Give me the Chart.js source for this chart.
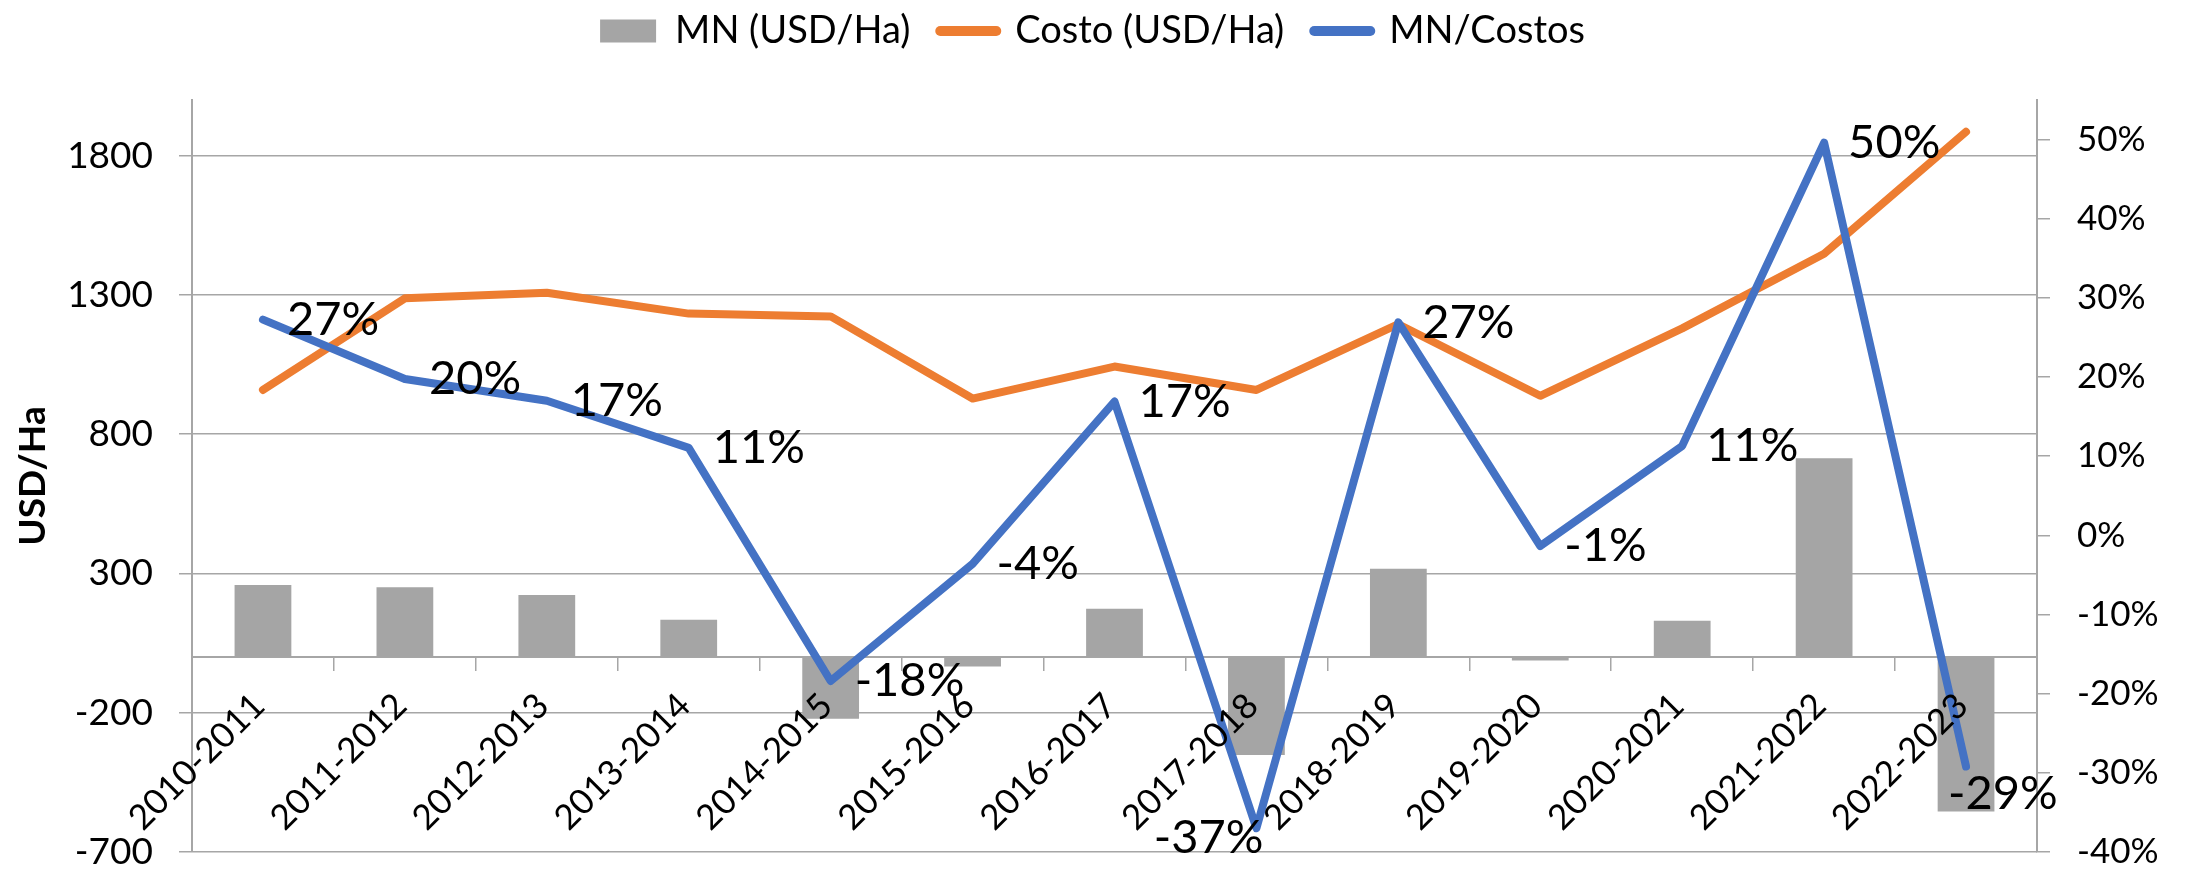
<!DOCTYPE html>
<html>
<head>
<meta charset="utf-8">
<script src="https://cdn.jsdelivr.net/npm/chart.js@4/dist/chart.umd.min.js"></script>
<style>
  html, body { margin: 0; padding: 0; background: #fff; }
  #wrap { width: 2185px; height: 869px; position: relative; }
</style>
</head>
<body>
<div id="wrap"><canvas id="chart"></canvas></div>
<script>
const SEASONS = ['2010-2011', '2011-2012', '2012-2013', '2013-2014', '2014-2015', '2015-2016', '2016-2017',
  '2017-2018', '2018-2019', '2019-2020', '2020-2021', '2021-2022', '2022-2023'];
const MN = [259, 251, 223, 134, -222, -34, 173, -352, 317, -12, 130, 714, -555];
const COSTO = [959, 1288, 1308, 1233, 1223, 928, 1043, 959, 1195, 938, 1180, 1448, 1886];
const MN_COSTOS = [27.25, 19.75, 17.0, 11.05, -18.4, -3.6, 16.9, -37.0, 26.9, -1.35, 11.3, 49.6, -29.2];

const LEFT_TICKS = [-700, -200, 300, 800, 1300, 1800];
const RIGHT_TICKS = [-40, -30, -20, -10, 0, 10, 20, 30, 40, 50];

const FONT = 'Lato';
const GRID = '#a6a6a6';
const GRAY = '#a5a5a5';
const ORANGE = '#ed7d31';
const BLUE = '#4472c4';

// where each ratio label sits relative to its point (Excel default is "right")
const LABEL_DEFAULT = { dx: 24, dy: 0, align: 'left' };
const LABEL_MOVED = { 7: { dx: 7, dy: 10, align: 'right' }, 12: { dx: -18, dy: 27, align: 'left' } };

const ratioLabels = {
  id: 'ratioLabels',
  afterDatasetsDraw(chart) {
    const meta = chart.getDatasetMeta(2);
    const ctx = chart.ctx;
    ctx.save();
    ctx.font = '47px ' + FONT;
    ctx.fillStyle = '#000';
    ctx.textBaseline = 'middle';
    meta.data.forEach((pt, i) => {
      const s = LABEL_MOVED[i] || LABEL_DEFAULT;
      ctx.textAlign = s.align;
      ctx.fillText(Math.round(MN_COSTOS[i]) + '%', pt.x + s.dx, pt.y + s.dy);
    });
    ctx.restore();
  }
};

new Chart(document.getElementById('chart'), {
  type: 'bar',
  data: {
    labels: SEASONS,
    datasets: [
      {
        label: 'MN (USD/Ha)',
        data: MN,
        backgroundColor: GRAY,
        barPercentage: 0.4,
        categoryPercentage: 1,
        yAxisID: 'y',
        order: 3
      },
      {
        type: 'line',
        label: 'Costo (USD/Ha)',
        data: COSTO,
        borderColor: ORANGE,
        backgroundColor: ORANGE,
        borderWidth: 8,
        borderCapStyle: 'round',
        borderJoinStyle: 'round',
        pointRadius: 0,
        tension: 0,
        yAxisID: 'y',
        order: 2
      },
      {
        type: 'line',
        label: 'MN/Costos',
        data: MN_COSTOS,
        borderColor: BLUE,
        backgroundColor: BLUE,
        borderWidth: 8,
        borderCapStyle: 'round',
        borderJoinStyle: 'round',
        pointRadius: 0,
        tension: 0,
        yAxisID: 'y1',
        order: 1
      }
    ]
  },
  options: {
    responsive: true,
    maintainAspectRatio: false,
    animation: false,
    devicePixelRatio: 1,
    layout: { padding: { top: -18, left: 0, right: 0, bottom: 0 } },
    plugins: {
      tooltip: { enabled: false },
      // empty title only keeps the gap between legend and plot
      title: { display: true, text: '', font: { size: 10, lineHeight: 1 }, padding: { top: 0, bottom: 30 } },
      legend: {
        position: 'top',
        weight: 3000,
        labels: {
          usePointStyle: true,
          pointStyleWidth: 56,
          boxHeight: 23,
          padding: 30,
          color: '#000',
          font: { family: FONT, size: 38 },
          generateLabels(chart) {
            return chart.data.datasets.map((ds, i) => {
              const isLine = ds.type === 'line';
              return {
                text: ds.label,
                datasetIndex: i,
                fillStyle: isLine ? ds.borderColor : ds.backgroundColor,
                strokeStyle: isLine ? ds.borderColor : ds.backgroundColor,
                lineWidth: isLine ? 10 : 0,
                lineCap: 'round',
                pointStyle: isLine ? 'line' : 'rect',
                hidden: false
              };
            });
          }
        }
      }
    },
    scales: {
      x: {
        position: { y: 0 },
        offset: true,
        grid: { drawOnChartArea: false, drawTicks: true, tickLength: 13, color: GRID, lineWidth: 1.5, offset: true },
        border: { display: true, color: GRID, width: 2 },
        ticks: {
          z: 1,
          autoSkip: false, minRotation: 45, maxRotation: 45, padding: 15, labelOffset: -4,
          color: '#000', font: { family: FONT, size: 35 }
        },
        afterFit(s) { s.paddingLeft = 0; s.paddingRight = 0; s.paddingTop = 0; s.paddingBottom = 0; }
      },
      y: {
        position: 'left',
        min: -700,
        max: 2000,
        afterBuildTicks(s) { s.ticks = LEFT_TICKS.map(v => ({ value: v })); },
        grid: { color: GRID, lineWidth: 1.5, drawTicks: true, tickLength: 13 },
        border: { display: true, color: GRID, width: 2 },
        ticks: { padding: 26, color: '#000', font: { family: FONT, size: 37 }, callback: v => String(v) },
        title: {
          display: true, text: 'USD/Ha', color: '#000',
          font: { family: FONT, size: 37, weight: 'bold' }, padding: { top: 11, bottom: 0 }
        },
        afterFit(s) { s.width = 192; s.paddingTop = 100; s.paddingBottom = 17; }
      },
      y1: {
        position: 'right',
        min: -40,
        max: 55,
        afterBuildTicks(s) { s.ticks = RIGHT_TICKS.map(v => ({ value: v })); },
        grid: { drawOnChartArea: false, color: GRID, lineWidth: 1.5, drawTicks: true, tickLength: 13 },
        border: { display: true, color: GRID, width: 2 },
        ticks: { padding: 27, color: '#000', font: { family: FONT, size: 35 }, callback: v => v + '%' },
        afterFit(s) { s.width = 148; s.paddingTop = 100; s.paddingBottom = 17; }
      }
    }
  },
  plugins: [ratioLabels]
});
</script>
</body>
</html>
